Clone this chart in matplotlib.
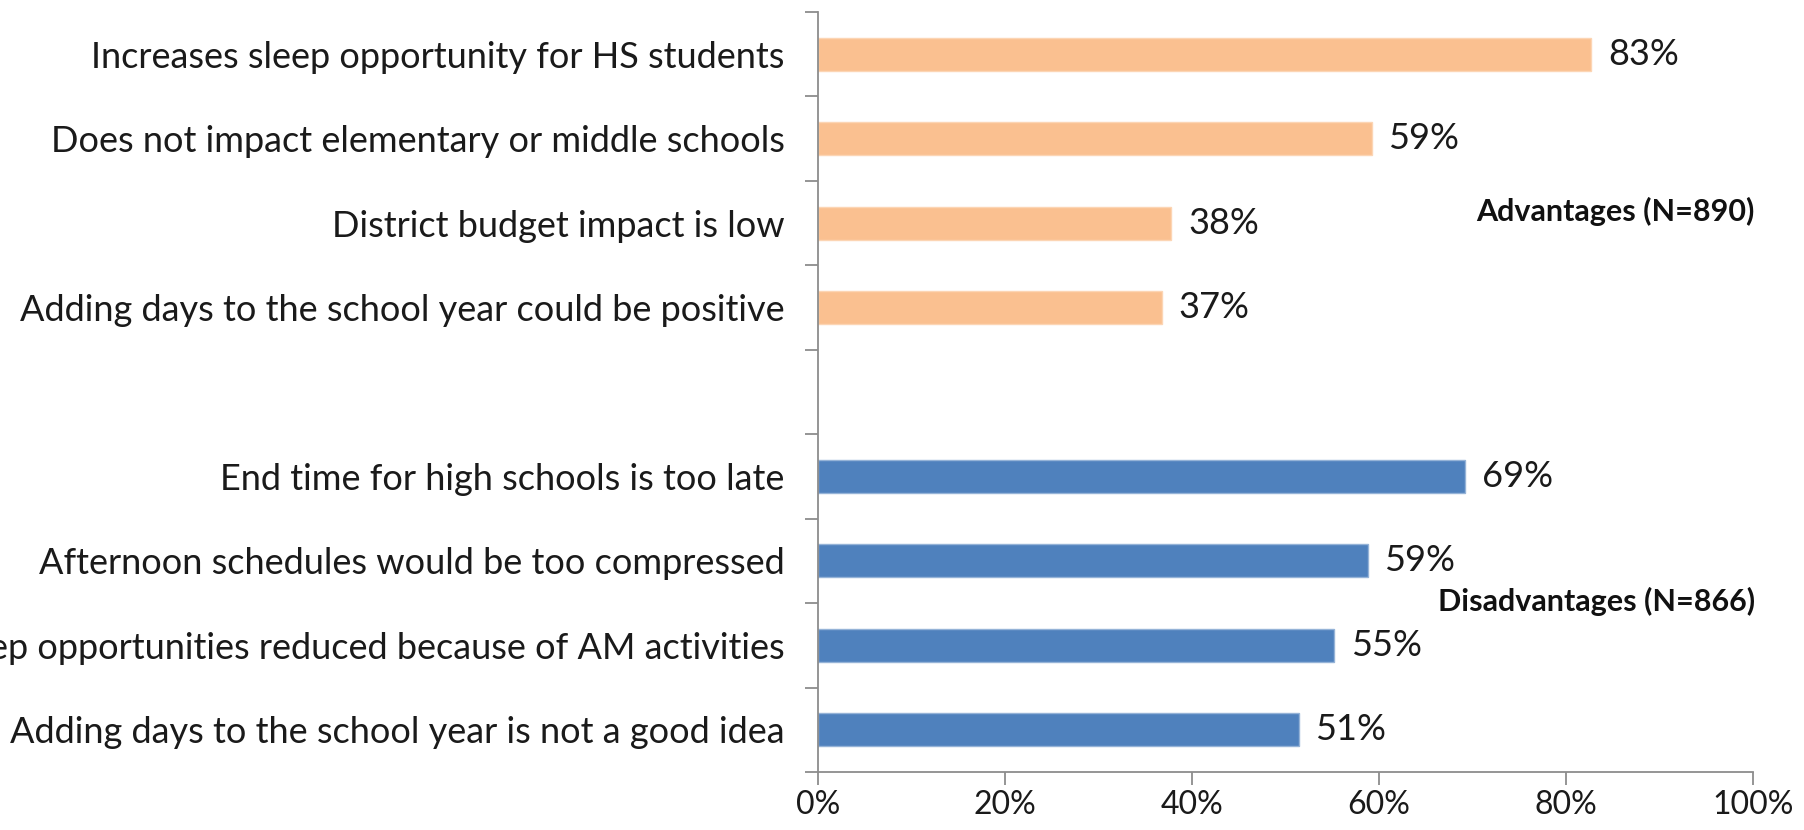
import matplotlib
matplotlib.use("Agg")
import matplotlib.pyplot as plt
from matplotlib.ticker import FixedLocator, FuncFormatter
import numpy as np

categories = [
    "Increases sleep opportunity for HS students",
    "Does not impact elementary or middle schools",
    "District budget impact is low",
    "Adding days to the school year could be positive",
    "",
    "End time for high schools is too late",
    "Afternoon schedules would be too compressed",
    "Sleep opportunities reduced because of AM activities",
    "Adding days to the school year is not a good idea",
]
values = [82.7, 59.2, 37.8, 36.8, None, 69.2, 58.8, 55.2, 51.4]
value_labels = ["83%", "59%", "38%", "37%", "", "69%", "59%", "55%", "51%"]
groups = ["adv", "adv", "adv", "adv", None, "dis", "dis", "dis", "dis"]
group_titles = ["Advantages (N=890)", "Disadvantages (N=866)"]
xticks = [0, 20, 40, 60, 80, 100]

colors = {"adv": "#FAC090", "dis": "#4F81BD"}
edges = {"adv": "#FCD5B4", "dis": "#95B3D7"}

plt.rcParams['font.family'] = ['Lato', 'DejaVu Sans']

fig = plt.figure(figsize=(18.04, 8.30), dpi=100)
ax = fig.add_axes([818/1804, 58/830, 935/1804, 760/830])

ypos = np.arange(len(categories))
for y, v, g, lab in zip(ypos, values, groups, value_labels):
    if v is None:
        continue
    ax.barh(y, v, height=0.39, color=colors[g], edgecolor=edges[g], linewidth=1)
    ax.annotate(lab, xy=(v, y), xytext=(12, 0), textcoords="offset points",
                ha="left", va="center", fontsize=26, color="#1a1a1a")

ax.set_xlim(0, 100)
ax.set_ylim(len(categories) - 0.5, -0.5)

ax.set_yticks(ypos)
ax.set_yticklabels(categories)
ax.yaxis.set_minor_locator(FixedLocator(np.arange(-0.5, len(categories), 1.0)))
ax.tick_params(axis="y", which="major", length=0, pad=24, labelsize=26, labelcolor="#1a1a1a")
ax.tick_params(axis="y", which="minor", length=9.5, width=1.3, color="#8c8c8c", direction="out")

ax.set_xticks(xticks)
ax.xaxis.set_major_formatter(FuncFormatter(lambda x, p: f"{int(x)}%"))
ax.tick_params(axis="x", which="major", length=9, width=1.3, color="#8c8c8c", pad=4,
               labelsize=23, labelcolor="#1a1a1a")

for s in ["top", "right"]:
    ax.spines[s].set_visible(False)
for s in ["left", "bottom"]:
    ax.spines[s].set_color("#8c8c8c")
    ax.spines[s].set_linewidth(1.3)

ax.text(100.2, 1.86, group_titles[0], ha="right", va="center", fontsize=22,
        fontweight="bold", color="#111111")
ax.text(100.2, 6.48, group_titles[1], ha="right", va="center", fontsize=22,
        fontweight="bold", color="#111111")

fig.savefig("out.png", dpi=100)
